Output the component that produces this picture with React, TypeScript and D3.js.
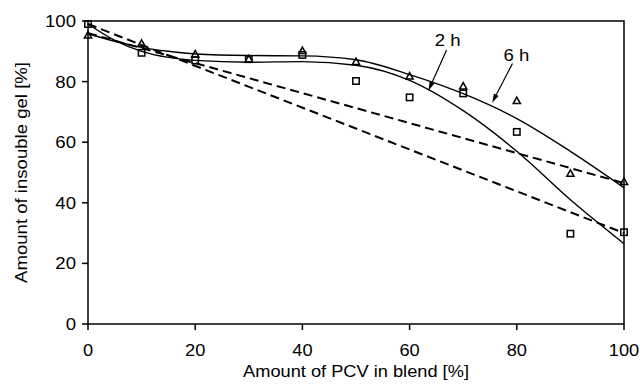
import React from "react";
import * as d3 from "d3";

// measured points
const pcv = [0, 10, 20, 30, 40, 50, 60, 70, 80, 90, 100];
const gel2h = [99, 89.5, 87, 87.4, 88.8, 80.2, 74.8, 76.1, 63.4, 29.8, 30.3];
const gel6h = [95.3, 92.6, 89.1, 87.5, 90.2, 86.6, 81.8, 78.5, 73.7, 49.7, 47];

// polynomial trend lines
const fitX = [0, 5, 10, 15, 20, 30, 40, 50, 60, 70, 80, 90, 100];
const fit2h = [99, 93.6, 90, 88, 87, 86.4, 86.6, 85.4, 80.4, 70.4, 57, 41, 26.5];
const fit6h = [95.8, 93.3, 91.3, 90, 89.1, 88.6, 88.5, 87.2, 82.3, 76, 67.8, 57, 45];

// linear trend lines (end points)
const linX = [0, 100];
const lin2h = [99, 30];
const lin6h = [96, 46.5];

const xTicks = [0, 20, 40, 60, 80, 100];
const yTicks = [0, 20, 40, 60, 80, 100];

// arrow labels: text pos, arrow tail, arrow tip (data units)
const labels = [
  { text: "2 h", tx: 64.7, ty: 91.6, x1: 66.9, y1: 90.4, x2: 63.5, y2: 77.0 },
  { text: "6 h", tx: 77.5, ty: 86.9, x1: 79.2, y1: 86.0, x2: 75.4, y2: 73.0 },
];

const W = 640,
  H = 385;
const margin = { left: 88, top: 21, right: 16, bottom: 61 };
const font = "'Liberation Sans', Arial, Helvetica, sans-serif";
const stretch = 1.14;

export default function App() {
  const x = d3
    .scaleLinear()
    .domain([0, 100])
    .range([margin.left, W - margin.right]);
  const y = d3
    .scaleLinear()
    .domain([0, 100])
    .range([H - margin.bottom, margin.top]);

  const curve = d3
    .line<number>()
    .x((d, i) => x(fitX[i]))
    .y((d) => y(d))
    .curve(d3.curveMonotoneX);
  const straight = d3
    .line<number>()
    .x((d, i) => x(linX[i]))
    .y((d) => y(d));

  const x0 = x(0),
    x1 = x(100),
    y0 = y(0),
    y1 = y(100);

  const tri = (cx: number, cy: number) => {
    const s = 3.6;
    return `M${cx},${cy - s} L${cx + s},${cy + s * 0.8} L${cx - s},${cy + s * 0.8} Z`;
  };

  return (
    <svg
      width={W}
      height={H}
      style={{ position: "absolute", left: 0, top: 0, background: "#fff" }}
    >
      {/* frame */}
      <rect
        x={x0}
        y={y1}
        width={x1 - x0}
        height={y0 - y1}
        fill="none"
        stroke="#000"
        strokeWidth={1.5}
      />

      {/* y axis ticks */}
      {yTicks.map((t) => (
        <g key={"y" + t}>
          <line x1={x0 - 6} x2={x0} y1={y(t)} y2={y(t)} stroke="#000" strokeWidth={1.5} />
          <text
            transform={`translate(${x0 - 12},${y(t) + 6}) scale(${stretch},1)`}
            textAnchor="end"
            fontFamily={font}
            fontSize={16.3}
          >
            {t}
          </text>
        </g>
      ))}

      {/* x axis ticks */}
      {xTicks.map((t) => (
        <g key={"x" + t}>
          <line x1={x(t)} x2={x(t)} y1={y0} y2={y0 + 6} stroke="#000" strokeWidth={1.5} />
          <text
            transform={`translate(${x(t)},${y0 + 32}) scale(${stretch},1)`}
            textAnchor="middle"
            fontFamily={font}
            fontSize={16}
          >
            {t}
          </text>
        </g>
      ))}

      <text
        transform={`translate(${(x0 + x1) / 2},${H - 8}) scale(${stretch},1)`}
        textAnchor="middle"
        fontFamily={font}
        fontSize={16}
      >
        Amount of PCV in blend [%]
      </text>
      <text
        transform={`translate(27,${(y0 + y1) / 2}) rotate(-90) scale(${stretch},1)`}
        textAnchor="middle"
        fontFamily={font}
        fontSize={16.3}
      >
        Amount of insouble gel [%]
      </text>

      {/* trend lines */}
      <path d={straight(lin2h) || ""} fill="none" stroke="#000" strokeWidth={2} strokeDasharray="9,5" />
      <path d={straight(lin6h) || ""} fill="none" stroke="#000" strokeWidth={2} strokeDasharray="9,5" />
      <path d={curve(fit2h) || ""} fill="none" stroke="#000" strokeWidth={1.4} />
      <path d={curve(fit6h) || ""} fill="none" stroke="#000" strokeWidth={1.4} />

      {/* markers */}
      {pcv.map((p, i) => (
        <rect
          key={"s" + p}
          x={x(p) - 3.2}
          y={y(gel2h[i]) - 3.2}
          width={6.4}
          height={6.4}
          fill="none"
          stroke="#000"
          strokeWidth={1.5}
        />
      ))}
      {pcv.map((p, i) => (
        <path
          key={"t" + p}
          d={tri(x(p), y(gel6h[i]))}
          fill="none"
          stroke="#000"
          strokeWidth={1.5}
        />
      ))}

      {/* labels with arrows */}
      {labels.map((l) => {
        const ax1 = x(l.x1),
          ay1 = y(l.y1),
          ax2 = x(l.x2),
          ay2 = y(l.y2);
        const ang = Math.atan2(ay2 - ay1, ax2 - ax1);
        const len = 9,
          hw = 2.6;
        const bx = ax2 - len * Math.cos(ang),
          by = ay2 - len * Math.sin(ang);
        const px = -Math.sin(ang) * hw,
          py = Math.cos(ang) * hw;
        return (
          <g key={l.text}>
            <text
              transform={`translate(${x(l.tx)},${y(l.ty)}) scale(${stretch},1)`}
              fontFamily={font}
              fontSize={16.3}
            >
              {l.text}
            </text>
            <line x1={ax1} y1={ay1} x2={bx} y2={by} stroke="#000" strokeWidth={1.2} />
            <path
              d={`M${ax2},${ay2} L${bx + px},${by + py} L${bx - px},${by - py} Z`}
              fill="#000"
            />
          </g>
        );
      })}
    </svg>
  );
}
